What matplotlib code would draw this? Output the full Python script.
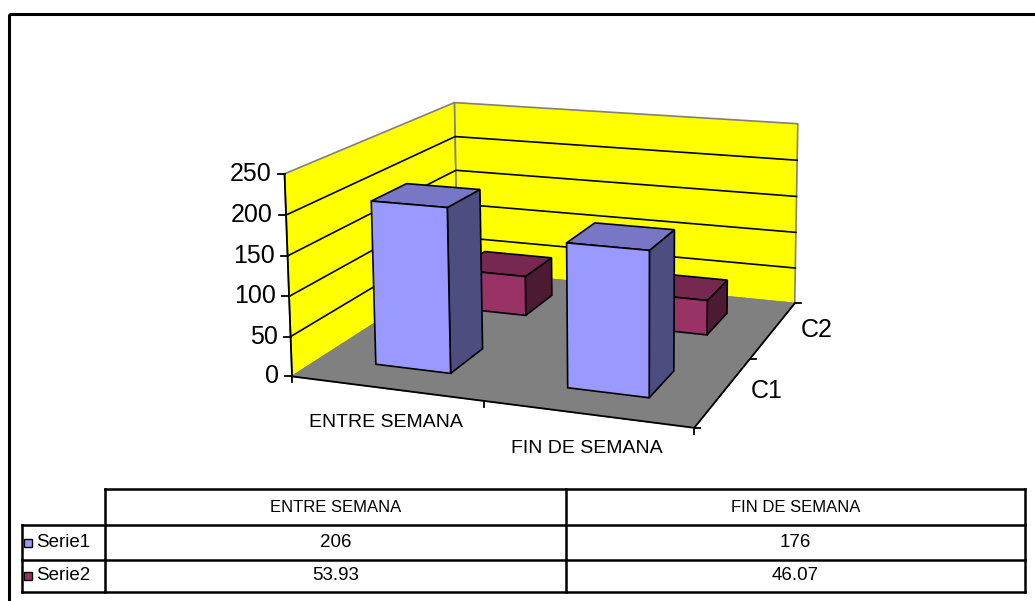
import matplotlib.pyplot as plt
import numpy as np
from matplotlib.patches import Polygon, Rectangle

plt.rcParams["font.family"] = ["Liberation Sans", "DejaVu Sans"]

# chart data
categories = ["ENTRE SEMANA", "FIN DE SEMANA"]
series_names = ["Serie1", "Serie2"]
depth_labels = ["C1", "C2"]
serie1 = [206, 176]
serie2 = [53.93, 46.07]
value_ticks = [0, 50, 100, 150, 200, 250]

VMAX = 250.0
front_col = ["#9999FF", "#993366"]
top_col = ["#7777C6", "#772850"]
side_col = ["#4D4D80", "#4D1A33"]

# camera: fit a perspective projection to the box corners of the 3D plot
# world = (category pos, series depth, value/VMAX) -> pixel
world_pts = np.array([
    [0, 0, 0], [0, 0, 1], [1, 0, 0], [2, 0, 0], [2, 1, 0], [2, 2, 0],
    [0, 2, 1], [2, 2, 1], [0, 2, 0.8], [0, 2, 0.6], [0, 0, 0.8], [0, 0, 0.4],
])
pix_pts = np.array([
    [293, 376], [285, 173], [485, 403], [693, 428], [750, 358], [795, 303],
    [455, 103], [798, 124], [455, 137], [455, 170], [286, 215], [288, 296],
])
rows = []
rhs = []
for (X, Y, Z), (u, v) in zip(world_pts, pix_pts):
    rows.append([X, Y, Z, 1, 0, 0, 0, 0, -u * X, -u * Y, -u * Z])
    rhs.append(u)
    rows.append([0, 0, 0, 0, X, Y, Z, 1, -v * X, -v * Y, -v * Z])
    rhs.append(v)
p, *_ = np.linalg.lstsq(np.array(rows, float), np.array(rhs, float), rcond=None)
P = np.append(p, 1).reshape(3, 4)


def proj(x, y, val):
    h = P @ np.array([x, y, val / VMAX, 1.0])
    return h[0] / h[2], h[1] / h[2]


def face(ax, corners, fc, ec="black", lw=1.2, z=2):
    pts = [proj(*c) for c in corners]
    ax.add_patch(Polygon(pts, closed=True, fc=fc, ec=ec, lw=lw, zorder=z,
                         joinstyle="miter"))


fig = plt.figure(figsize=(10.35, 6.01), dpi=100)
ax = fig.add_axes([0, 0, 1, 1])
ax.set_xlim(0, 1035)
ax.set_ylim(601, 0)
ax.axis("off")

ncat = len(categories)
nser = len(series_names)

# outer chart border
ax.add_patch(Rectangle((8.5, 13.5), 1040, 600, fill=False, ec="black", lw=2.2, zorder=1))

# walls and floor
face(ax, [(0, 0, 0), (0, nser, 0), (0, nser, VMAX), (0, 0, VMAX)], "#FFFF00", ec="#808080", lw=1.2, z=1)
face(ax, [(0, nser, 0), (ncat, nser, 0), (ncat, nser, VMAX), (0, nser, VMAX)], "#FFFF00", ec="#808080", lw=1.2, z=1)
face(ax, [(0, 0, 0), (ncat, 0, 0), (ncat, nser, 0), (0, nser, 0)], "#808080", ec="#808080", lw=1.0, z=1.1)

# gridlines
for t in value_ticks[1:-1]:
    xs, ys = zip(proj(0, 0, t), proj(0, nser, t), proj(ncat, nser, t))
    ax.plot(xs, ys, color="black", lw=1.2, zorder=1.5)

# axes lines
xs, ys = zip(proj(0, 0, 0), proj(0, 0, VMAX))
ax.plot(xs, ys, color="black", lw=1.3, zorder=1.6)
xs, ys = zip(proj(0, 0, 0), proj(ncat, 0, 0), proj(ncat, nser, 0))
ax.plot(xs, ys, color="black", lw=1.3, zorder=1.6)

for t in value_ticks:
    x0, y0 = proj(0, 0, t)
    ax.plot([x0 - 7, x0], [y0, y0], color="black", lw=1.3, zorder=1.6)
    ax.text(x0 - 13, y0, str(t), ha="right", va="center", fontsize=18)
for i in range(ncat + 1):
    x0, y0 = proj(i, 0, 0)
    ax.plot([x0, x0], [y0, y0 + 6], color="black", lw=1.3, zorder=1.6)
for j in range(nser + 1):
    x0, y0 = proj(ncat, j, 0)
    ax.plot([x0, x0 + 6], [y0, y0], color="black", lw=1.3, zorder=1.6)

for i, name in enumerate(categories):
    x0, y0 = proj(i + 0.5, 0, 0)
    ax.text(x0, y0 + 34, name, ha="center", va="center", fontsize=14)
for j, name in enumerate(depth_labels):
    x0, y0 = proj(ncat, j + 0.5, 0)
    ax.text(x0 + 27, y0, name, ha="left", va="center", fontsize=18)

# bars, back row first
values = [serie1, serie2]
w = 0.4
for j in reversed(range(nser)):
    y0, y1 = j + 0.5 - w / 2, j + 0.5 + w / 2
    for i in range(ncat):
        x0, x1 = i + 0.5 - w / 2, i + 0.5 + w / 2
        h = values[j][i]
        zb = 3 + (nser - j) * 2 + i * 0.1
        face(ax, [(x1, y0, 0), (x1, y1, 0), (x1, y1, h), (x1, y0, h)], side_col[j], z=zb)
        face(ax, [(x0, y0, h), (x1, y0, h), (x1, y1, h), (x0, y1, h)], top_col[j], z=zb)
        face(ax, [(x0, y0, 0), (x1, y0, 0), (x1, y0, h), (x0, y0, h)], front_col[j], z=zb)

# data table
col_x = [105, 566, 1025]
left_x = 22
row_y = [489, 525, 560, 592]
lw_t = 1.8
ax.plot([col_x[0], col_x[-1]], [row_y[0], row_y[0]], color="black", lw=lw_t)
for yy in row_y[1:]:
    ax.plot([left_x, col_x[-1]], [yy, yy], color="black", lw=lw_t)
for xx in col_x:
    ax.plot([xx, xx], [row_y[0], row_y[-1]], color="black", lw=lw_t)
ax.plot([left_x, left_x], [row_y[1], row_y[-1]], color="black", lw=lw_t)

for i, name in enumerate(categories):
    cx = (col_x[i] + col_x[i + 1]) / 2
    ax.text(cx, (row_y[0] + row_y[1]) / 2, name, ha="center", va="center", fontsize=12)
for j, name in enumerate(series_names):
    cy = (row_y[j + 1] + row_y[j + 2]) / 2
    ax.add_patch(Rectangle((24, cy - 4), 8, 8, fc=front_col[j], ec="black", lw=1.0))
    ax.text(36, cy, name, ha="left", va="center", fontsize=13.5)
    for i in range(ncat):
        cx = (col_x[i] + col_x[i + 1]) / 2
        ax.text(cx, cy, f"{values[j][i]:g}", ha="center", va="center", fontsize=13.5)

fig.savefig("out.png", dpi=100)
